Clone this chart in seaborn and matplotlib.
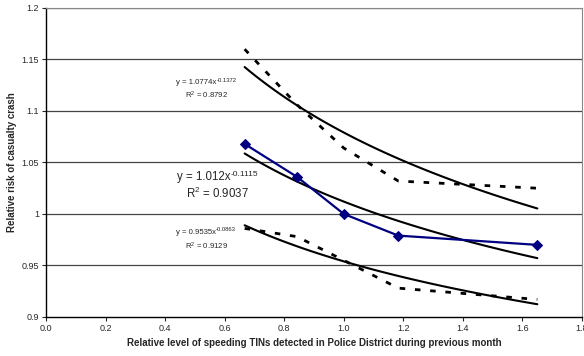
import numpy as np
import pandas as pd
import seaborn as sns
import matplotlib.pyplot as plt

# data
tins = [0.667, 0.843, 1.0, 1.183, 1.65]
risk_all = [1.068, 1.036, 1.0, 0.979, 0.970]
risk_upper = [1.160, 1.106, 1.064, 1.032, 1.025]
risk_lower = [0.986, 0.978, 0.955, 0.928, 0.917]

x_ticks = [0.0, 0.2, 0.4, 0.6, 0.8, 1.0, 1.2, 1.4, 1.6, 1.8]
y_ticks = [0.9, 0.95, 1.0, 1.05, 1.1, 1.15, 1.2]
y_tick_labels = ["0.9", "0.95", "1", "1.05", "1.1", "1.15", "1.2"]

df = pd.DataFrame({"tins": tins, "all": risk_all, "upper": risk_upper, "lower": risk_lower})

sns.set_style("white")
plt.rcParams['font.family'] = ['Liberation Sans', 'DejaVu Sans']
plt.rcParams['mathtext.fontset'] = 'custom'
plt.rcParams['mathtext.rm'] = 'Liberation Sans'
plt.rcParams['mathtext.default'] = 'regular'

fig = plt.figure(figsize=(5.84, 3.56), dpi=100)
ax = fig.add_axes([0.0788, 0.1096, 0.9178, 0.868])

for y in y_ticks[1:]:
    ax.axhline(y, color='#444444', lw=0.9, zorder=0)

# power trendlines, fitted on log-log like Excel does
def power_fit(col):
    b, loga = np.polyfit(np.log(df["tins"]), np.log(df[col]), 1)
    xs = np.linspace(df["tins"].min(), df["tins"].max(), 60)
    return xs, np.exp(loga) * xs ** b

for col in ["upper", "all", "lower"]:
    xs, ys = power_fit(col)
    sns.lineplot(x=xs, y=ys, ax=ax, color='black', lw=1.5, zorder=3)

for col in ["upper", "lower"]:
    sns.lineplot(data=df, x="tins", y=col, ax=ax, color='black', lw=2,
                 dashes=False, linestyle=(0, (2, 3.5)), zorder=2)

sns.lineplot(data=df, x="tins", y="all", ax=ax, color='#000080', lw=1.6,
             marker='D', markersize=5.5, markeredgecolor='#000080', zorder=4)

ax.set_xlim(0, 1.8)
ax.set_ylim(0.9, 1.2)
ax.set_xticks(x_ticks)
ax.set_xticklabels([f"{v:.1f}" for v in x_ticks])
ax.set_yticks(y_ticks)
ax.set_yticklabels(y_tick_labels)
ax.tick_params(axis='both', labelsize=6.5, direction='out', length=3, width=0.8,
               bottom=True, left=True, pad=2)
for s in ['left', 'bottom']:
    ax.spines[s].set_color('black')
    ax.spines[s].set_linewidth(1)
for s in ['top', 'right']:
    ax.spines[s].set_color('#888888')
    ax.spines[s].set_linewidth(0.8)

ax.set_xlabel("Relative level of speeding TINs detected in Police District during previous month",
              fontsize=7, fontweight='bold', labelpad=4)
ax.set_ylabel("Relative risk of casualty crash", fontsize=7, fontweight='bold', labelpad=3)


def eq_label(x, y, base, sup, r2, size, dy, dx_r2, sup_size):
    t = ax.text(x, y, base, fontsize=size, ha='left', va='center')
    ax.annotate(sup, xy=(1, 0.45), xycoords=t, fontsize=sup_size, ha='left', va='bottom')
    ax.text(x + dx_r2, y - dy, "R$^2$ = " + r2, fontsize=size, ha='left', va='center')


eq_label(0.437, 1.1272, "y = 1.0774x", "-0.1372", "0.8792", 5.6, 0.0117, 0.031, 4.2)
eq_label(0.440, 1.0359, "y = 1.012x", "-0.1115", "0.9037", 8.3, 0.0155, 0.030, 6.0)
eq_label(0.437, 0.9825, "y = 0.9535x", "-0.0863", "0.9129", 5.6, 0.0136, 0.031, 4.2)

fig.savefig("out.png", dpi=100)
